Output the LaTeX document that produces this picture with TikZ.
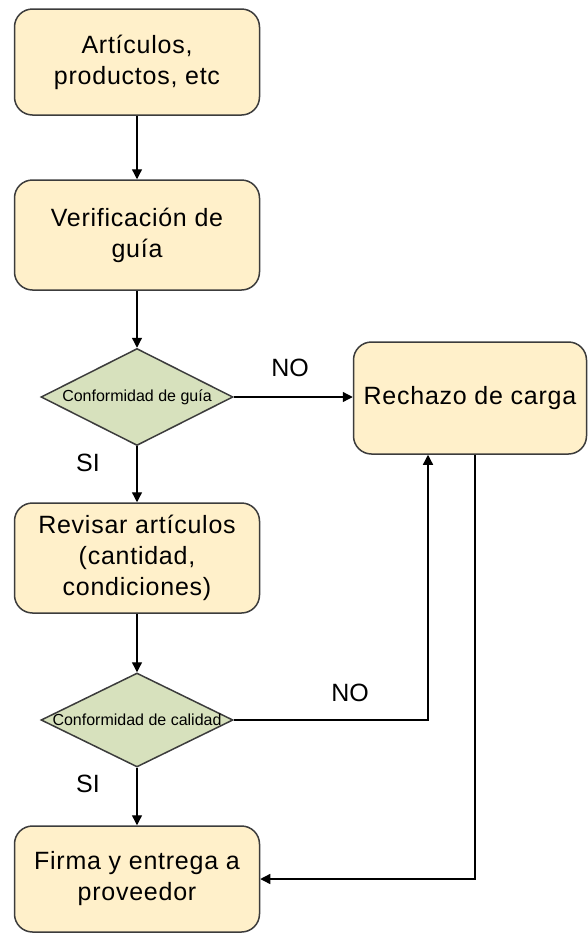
\documentclass[tikz,border=0pt]{standalone}
\usepackage{fontspec}
\setmainfont{Liberation Sans}
\usetikzlibrary{shapes.geometric,arrows.meta}
\definecolor{crema}{HTML}{FFF0CA}
\definecolor{salvia}{HTML}{D7E1BD}
\definecolor{bordo}{HTML}{3C3C3C}

\begin{document}
\begin{tikzpicture}[x=1pt,y=-1pt,
	caja/.style={draw=bordo,line width=1.5pt,fill=crema,rounded corners=18pt,minimum width=245pt,inner sep=0pt,align=center,font=\fontsize{25}{31}\selectfont\addfontfeature{LetterSpace=3}},
	rombo/.style={draw=bordo,line width=1.5pt,fill=salvia,diamond,inner sep=0pt,minimum width=192pt},
	testo/.style={font=\fontsize{16}{18}\selectfont,inner sep=0pt},
	etichetta/.style={font=\fontsize{25}{30}\selectfont},
	freccia/.style={line width=1.3pt,-{Triangle[length=10pt,width=10pt]}}]

	\useasboundingbox (0,0) rectangle (588,938);

	% cajas
	\node[caja,minimum height=106pt] (art) at (137,62) {Artículos,\\productos, etc};
	\node[caja,minimum height=110pt] (ver) at (137,235) {Verificación de\\guía};
	\node[caja,minimum height=110pt] (rev) at (137,558) {Revisar artículos\\(cantidad,\\condiciones)};
	\node[caja,minimum height=106pt] (fir) at (137,879) {Firma y entrega a\\proveedor};
	\node[caja,minimum width=233pt,minimum height=112pt] (rech) at (470,398) {Rechazo de carga};

	% decisiones
	\node[rombo,minimum height=97pt] (cg) at (137,397) {};
	\node[testo] (tcg) at (cg) {Conformidad de guía};
	\node[rombo,minimum height=94pt] (cc) at (137,720) {};
	\node[testo] (tcc) at (cc) {Conformidad de calidad};

	% flechas
	\draw[freccia] (art) -- (ver);
	\draw[freccia] (ver) -- (cg);
	\draw[freccia] (cg.east) -- (cg.east -| rech.west);
	\draw[freccia] (cg) -- (rev);
	\draw[freccia] (rev) -- (cc);
	\draw[freccia] (cc) -- (fir);

	\coordinate (rientro) at ([xshift=-42pt]rech.south);
	\draw[freccia] (cc.east) -| (rientro);
	\coordinate (uscita) at ([xshift=5pt]rech.south);
	\draw[freccia] (uscita) |- (fir.east);

	% etichette
	\node[etichetta] (no1) at (290,368) {NO};
	\node[etichetta] (si1) at (88,463) {SI};
	\node[etichetta] (no2) at (350,693) {NO};
	\node[etichetta] (si2) at (88,784) {SI};

\end{tikzpicture}
\end{document}
